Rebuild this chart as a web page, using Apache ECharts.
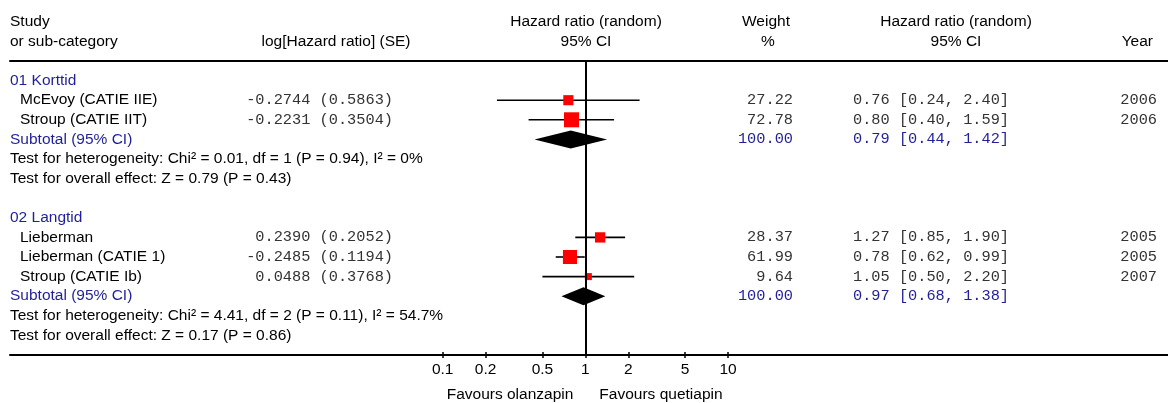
<!DOCTYPE html>
<html>
<head>
<meta charset="utf-8">
<script src="https://cdn.jsdelivr.net/npm/echarts@6/dist/echarts.min.js"></script>
<style>
  html, body { margin: 0; padding: 0; background: #fff; }
  #chart { width: 1168px; height: 403px; }
</style>
</head>
<body>
<div id="chart"></div>
<script>
// ---- data ----
const groups = ['01 Korttid', '02 Langtid'];
const studies = ['McEvoy (CATIE IIE)', 'Stroup (CATIE IIT)', 'Lieberman', 'Lieberman (CATIE 1)', 'Stroup (CATIE Ib)'];
const studyGroup = [0, 0, 1, 1, 1];
const logHR = [-0.2744, -0.2231, 0.2390, -0.2485, 0.0488];
const logSE = [0.5863, 0.3504, 0.2052, 0.1194, 0.3768];
const weights = [27.22, 72.78, 28.37, 61.99, 9.64];
const hr = [0.76, 0.80, 1.27, 0.78, 1.05];
const ciLow = [0.24, 0.40, 0.85, 0.62, 0.50];
const ciHigh = [2.40, 1.59, 1.90, 0.99, 2.20];
const years = [2006, 2006, 2005, 2005, 2007];

const subWeight = [100.00, 100.00];
const subHR = [0.79, 0.97];
const subLow = [0.44, 0.68];
const subHigh = [1.42, 1.38];
const hetTests = [
  'Test for heterogeneity: Chi\u00b2 = 0.01, df = 1 (P = 0.94), I\u00b2 = 0%',
  'Test for heterogeneity: Chi\u00b2 = 4.41, df = 2 (P = 0.11), I\u00b2 = 54.7%'
];
const overallTests = [
  'Test for overall effect: Z = 0.79 (P = 0.43)',
  'Test for overall effect: Z = 0.17 (P = 0.86)'
];

const tickValues = [0.1, 0.2, 0.5, 1, 2, 5, 10];
const tickLabels = ['0.1', '0.2', '0.5', '1', '2', '5', '10'];
const favours = ['Favours olanzapin', 'Favours quetiapin'];

const SANS = '"Liberation Sans", Arial, sans-serif';
const MONO = '"Liberation Mono", "Courier New", monospace';
const BLUE = '#1f1f99';
const GREY = '#333';
const FS = 15.5;   // sans size
const FM = 15.3;   // mono size

// x axis works in log10 units, stretched over the whole width
const xMin = -4.0333, xMax = 4.0845;
const tickLogs = tickValues.map(Math.log10);

// rows: group title, its studies, subtotal, two test lines, then a gap
const rows = [];
let r = 0;
groups.forEach((g, gi) => {
  rows.push({ kind: 'group', row: r++, text: g });
  studies.forEach((s, i) => {
    if (studyGroup[i] === gi) rows.push({ kind: 'study', row: r++, i: i });
  });
  rows.push({ kind: 'subtotal', row: r++, gi: gi });
  rows.push({ kind: 'note', row: r++, text: hetTests[gi] });
  rows.push({ kind: 'note', row: r++, text: overallTests[gi] });
  r++;
});
const studyRow = {};
const subRow = {};
rows.forEach(d => {
  if (d.kind === 'study') studyRow[d.i] = d.row;
  if (d.kind === 'subtotal') subRow[d.gi] = d.row;
});

const fmtCI = (m, lo, hi) => m.toFixed(2) + ' [' + lo.toFixed(2) + ', ' + hi.toFixed(2) + ']';

function txt(x, y, text, family, color, align) {
  const size = family === MONO ? FM : FS;
  return {
    type: 'text', x: x, y: y,
    style: {
      text: text, fontSize: size, fontFamily: family, fill: color,
      align: align, textAlign: align, verticalAlign: 'middle', textVerticalAlign: 'middle'
    }
  };
}

function renderRowText(params, api) {
  const d = rows[params.dataIndex];
  const y = api.coord([0, d.row])[1];
  const kids = [];
  if (d.kind === 'group') {
    kids.push(txt(10, y, d.text, SANS, BLUE, 'left'));
  } else if (d.kind === 'study') {
    const i = d.i;
    kids.push(txt(20, y, studies[i], SANS, '#000', 'left'));
    kids.push(txt(393, y, logHR[i].toFixed(4) + ' (' + logSE[i].toFixed(4) + ')', MONO, GREY, 'right'));
    kids.push(txt(793, y, weights[i].toFixed(2), MONO, GREY, 'right'));
    kids.push(txt(853, y, fmtCI(hr[i], ciLow[i], ciHigh[i]), MONO, GREY, 'left'));
    kids.push(txt(1157, y, String(years[i]), MONO, GREY, 'right'));
  } else if (d.kind === 'subtotal') {
    const g = d.gi;
    kids.push(txt(10, y, 'Subtotal (95% CI)', SANS, BLUE, 'left'));
    kids.push(txt(793, y, subWeight[g].toFixed(2), MONO, BLUE, 'right'));
    kids.push(txt(853, y, fmtCI(subHR[g], subLow[g], subHigh[g]), MONO, BLUE, 'left'));
  } else {
    kids.push(txt(10, y, d.text, SANS, '#000', 'left'));
  }
  return { type: 'group', children: kids };
}

function renderStudy(params, api) {
  const c = api.coord([api.value(0), api.value(1)]);
  const lo = api.coord([api.value(2), api.value(1)]);
  const hi = api.coord([api.value(3), api.value(1)]);
  const s = 2.4 + 1.48 * Math.sqrt(api.value(4));
  return {
    type: 'group',
    children: [
      { type: 'line', shape: { x1: lo[0], y1: lo[1], x2: hi[0], y2: hi[1] },
        style: { stroke: '#000', lineWidth: 1.6 } },
      { type: 'rect', shape: { x: c[0] - s / 2, y: c[1] - s / 2, width: s, height: s },
        style: { fill: '#ff0000' } }
    ]
  };
}

function renderDiamond(params, api) {
  const c = api.coord([api.value(0), api.value(1)]);
  const lo = api.coord([api.value(2), api.value(1)]);
  const hi = api.coord([api.value(3), api.value(1)]);
  const h = 9;
  return {
    type: 'polygon',
    shape: { points: [[lo[0], c[1]], [c[0], c[1] - h], [hi[0], c[1]], [c[0], c[1] + h]] },
    style: { fill: '#000' }
  };
}

const labelFor = v => {
  let best = 0;
  tickLogs.forEach((t, k) => { if (Math.abs(t - v) < Math.abs(tickLogs[best] - v)) best = k; });
  return tickLabels[best];
};

const headers = [
  txt(10, 22, 'Study', SANS, '#000', 'left'),
  txt(10, 42, 'or sub-category', SANS, '#000', 'left'),
  txt(336, 42, 'log[Hazard ratio] (SE)', SANS, '#000', 'center'),
  txt(586, 22, 'Hazard ratio (random)', SANS, '#000', 'center'),
  txt(586, 42, '95% CI', SANS, '#000', 'center'),
  txt(766, 22, 'Weight', SANS, '#000', 'center'),
  txt(768, 42, '%', SANS, '#000', 'center'),
  txt(956, 22, 'Hazard ratio (random)', SANS, '#000', 'center'),
  txt(956, 42, '95% CI', SANS, '#000', 'center'),
  txt(1153, 42, 'Year', SANS, '#000', 'right')
];

const gridPos = { left: 10, right: 0, top: 61, bottom: 48 };
const chart = echarts.init(document.getElementById('chart'), null, { renderer: 'canvas' });

chart.setOption({
  animation: false,
  backgroundColor: '#fff',
  grid: [Object.assign({}, gridPos), Object.assign({}, gridPos)],
  xAxis: [
    {
      type: 'value', gridIndex: 0, min: xMin, max: xMax, position: 'bottom',
      axisLine: { show: true, onZero: false, lineStyle: { color: '#000', width: 2 } },
      axisTick: { show: true, customValues: tickLogs, length: 3, lineStyle: { color: '#000', width: 1.5 } },
      axisLabel: {
        show: true, customValues: tickLogs, formatter: labelFor, margin: 7,
        fontFamily: SANS, fontSize: FS, color: '#000'
      },
      splitLine: { show: false }
    },
    {
      type: 'value', gridIndex: 0, min: xMin, max: xMax, position: 'top',
      axisLine: { show: true, onZero: false, lineStyle: { color: '#000', width: 2 } },
      axisTick: { show: false }, axisLabel: { show: false }, splitLine: { show: false }
    },
    {
      type: 'value', gridIndex: 1, min: xMin, max: xMax, position: 'bottom',
      axisLine: { show: false, onZero: false },
      axisTick: { show: true, inside: true, customValues: tickLogs, length: 3, lineStyle: { color: '#000', width: 1.5 } },
      axisLabel: { show: false }, splitLine: { show: false }
    }
  ],
  yAxis: [
    { type: 'value', gridIndex: 0, min: -1, max: 14, inverse: true, show: false },
    { type: 'value', gridIndex: 1, min: -1, max: 14, inverse: true, show: false }
  ],
  graphic: headers,
  series: [
    {
      type: 'custom', name: 'studies', xAxisIndex: 0, yAxisIndex: 0, clip: false,
      renderItem: renderStudy,
      encode: { x: 0, y: 1 },
      data: studies.map((s, i) => [Math.log10(hr[i]), studyRow[i], Math.log10(ciLow[i]), Math.log10(ciHigh[i]), weights[i]]),
      markLine: {
        silent: true, symbol: ['none', 'none'], label: { show: false },
        lineStyle: { color: '#000', width: 2, type: 'solid' },
        data: [{ xAxis: 0 }]
      },
      z: 3
    },
    {
      type: 'custom', name: 'subtotals', xAxisIndex: 0, yAxisIndex: 0, clip: false,
      renderItem: renderDiamond,
      encode: { x: 0, y: 1 },
      data: groups.map((g, gi) => [Math.log10(subHR[gi]), subRow[gi], Math.log10(subLow[gi]), Math.log10(subHigh[gi])]),
      z: 4
    },
    {
      type: 'custom', name: 'text', xAxisIndex: 0, yAxisIndex: 0, clip: false,
      renderItem: renderRowText,
      encode: { x: 0, y: 1 },
      data: rows.map(d => [0, d.row]),
      z: 5
    }
  ]
});

// favours labels sit either side of the line of no effect
const px1 = chart.convertToPixel({ xAxisIndex: 0 }, 0);
chart.setOption({
  graphic: headers.concat([
    txt(px1 - 12, 395, favours[0], SANS, '#000', 'right'),
    txt(px1 + 14, 395, favours[1], SANS, '#000', 'left')
  ])
});
</script>
</body>
</html>
